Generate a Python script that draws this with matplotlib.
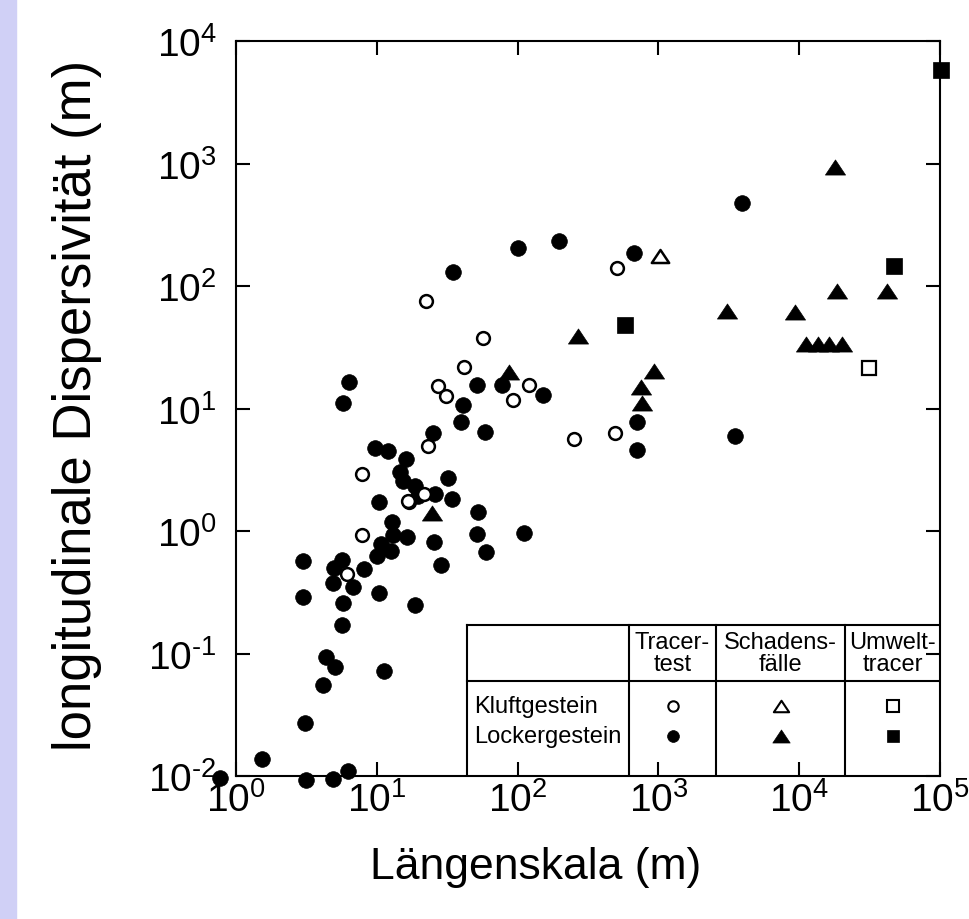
import matplotlib
matplotlib.use("Agg")
import matplotlib.pyplot as plt
from matplotlib.patches import Rectangle
from matplotlib.lines import Line2D
from matplotlib.path import Path
from matplotlib.ticker import FixedFormatter

plt.rcParams['font.family'] = ['Liberation Sans', 'DejaVu Sans']
plt.rcParams['mathtext.fontset'] = 'custom'
plt.rcParams['mathtext.rm'] = 'Liberation Sans'
plt.rcParams['mathtext.it'] = 'Liberation Sans'
plt.rcParams['mathtext.bf'] = 'Liberation Sans:bold'
plt.rcParams['axes.unicode_minus'] = False

# ----- data -----
# Tracertest, Lockergestein (filled circles)
tracer_locker_x = [0.77, 1.54, 3.14, 4.91, 6.28, 3.09, 4.17, 4.36, 5.05, 11.3,
                   5.63, 3.01, 3.01, 4.99, 5.69, 4.91, 6.81, 5.73, 10.4, 18.8,
                   8.11, 9.98, 10.7, 12.6, 12.9, 13.1, 16.3, 25.6, 28.4, 10.3,
                   52, 51.2, 6.38, 5.78, 51.7, 77, 152, 41.1, 39.4, 58.6,
                   25.2, 9.7, 12.1, 16.1, 14.6, 15.4, 18.7, 19.7, 25.9, 32.2,
                   34, 111, 59.7, 101, 34.6, 198, 3900, 674, 701, 701, 3500]
tracer_locker_y = [0.0096, 0.0138, 0.0092, 0.0095, 0.011, 0.027, 0.055, 0.093, 0.077, 0.072,
                   0.17, 0.57, 0.29, 0.50, 0.58, 0.38, 0.35, 0.26, 0.31, 0.25,
                   0.49, 0.63, 0.78, 0.69, 1.18, 0.93, 0.90, 0.82, 0.53, 1.71,
                   1.42, 0.95, 16.6, 11.2, 15.6, 15.6, 13, 10.7, 7.8, 6.4,
                   6.27, 4.76, 4.53, 3.87, 3.05, 2.57, 2.34, 1.94, 2.02, 2.71,
                   1.82, 0.965, 0.68, 204, 129, 232, 473, 186, 7.7, 4.58, 6.0]

# Tracertest, Kluftgestein (open circles)
tracer_kluft_x = [6.11, 7.85, 16.9, 27.1, 31, 120, 93, 22.9, 16.7, 21.6,
                  7.8, 22.4, 56.5, 41.6, 511, 252, 492]
tracer_kluft_y = [0.446, 0.927, 1.73, 15.3, 12.6, 15.6, 11.7, 4.9, 1.77, 2.0,
                  2.92, 75, 37.7, 21.7, 140, 5.63, 6.3]

# Schadensfaelle (triangles)
schaden_kluft_x = [1026]
schaden_kluft_y = [177]
schaden_locker_x = [24.8, 86.9, 270, 3050, 935, 752, 760, 18000,
                    11200, 13500, 16400, 20000, 18500, 41800, 9330]
schaden_locker_y = [1.40, 20, 38.8, 62, 20.4, 15.1, 11.2, 931,
                    33.7, 33.7, 33.7, 33.7, 90.6, 90.6, 61]

# Umwelttracer (squares)
umwelt_kluft_x = [31500]
umwelt_kluft_y = [21.3]
umwelt_locker_x = [579, 47100, 102000]
umwelt_locker_y = [48, 145, 5830]

x_exponents = [0, 1, 2, 3, 4, 5]
y_exponents = [-2, -1, 0, 1, 2, 3, 4]

col_labels = ["Tracer-\ntest", "Schadens-\nfälle", "Umwelt-\ntracer"]
row_labels = ["Kluftgestein", "Lockergestein"]


def pow_label(e):
    # plain hyphen for the minus, like the original
    s = str(e).replace('-', r'\text{-}')
    return r'$\mathdefault{10^{' + s + '}}$'


# slightly flat triangle, closed so the open one gets all three edges
tri = Path([(0, 0.75), (-1, -0.75), (1, -0.75), (0, 0.75)], closed=True)

fig = plt.figure(figsize=(9.69, 9.2), dpi=100)
fig.patches.append(Rectangle((0, 0), 16 / 969, 1, transform=fig.transFigure,
                             color='#d0d0f6', zorder=0))
ax = fig.add_axes([0.2436, 0.1554, 0.7265, 0.7989])

ax.plot(tracer_locker_x, tracer_locker_y, 'o', ms=11.3, mfc='black', mec='black',
        mew=0.5, ls='none', clip_on=False, zorder=3)
ax.plot(tracer_kluft_x, tracer_kluft_y, 'o', ms=9.2, mfc='white', mec='black',
        mew=1.8, ls='none', clip_on=False, zorder=4)
ax.plot(schaden_locker_x, schaden_locker_y, marker=tri, ms=14.5, mfc='black', mec='black',
        mew=0.5, ls='none', clip_on=False, zorder=3)
ax.plot(schaden_kluft_x, schaden_kluft_y, marker=tri, ms=12.5, mfc='white', mec='black',
        mew=1.8, ls='none', clip_on=False, zorder=4)
ax.plot(umwelt_locker_x, umwelt_locker_y, 's', ms=11, mfc='black', mec='black',
        mew=0.5, ls='none', clip_on=False, zorder=3)
ax.plot(umwelt_kluft_x, umwelt_kluft_y, 's', ms=9.5, mfc='white', mec='black',
        mew=1.6, ls='none', clip_on=False, zorder=4)

ax.set_xscale('log')
ax.set_yscale('log')
ax.set_xlim(1, 1e5)
ax.set_ylim(1e-2, 1e4)
ax.set_xticks([10.0 ** e for e in x_exponents])
ax.set_yticks([10.0 ** e for e in y_exponents])
ax.xaxis.set_major_formatter(FixedFormatter([pow_label(e) for e in x_exponents]))
ax.yaxis.set_major_formatter(FixedFormatter([pow_label(e) for e in y_exponents]))
ax.minorticks_off()
ax.tick_params(which='major', direction='in', length=10, width=1.5,
               top=True, right=True, labelsize=28)
ax.tick_params(axis='x', pad=4)
ax.tick_params(axis='y', pad=14)
for s in ax.spines.values():
    s.set_linewidth(1.5)
# the right-hand tick at 10^-1 is hidden behind the table in the original
for t in ax.yaxis.get_major_ticks():
    if abs(t.get_loc() - 0.1) < 1e-9:
        t.tick2line.set_visible(False)

ax.set_xlabel("Längenskala (m)", fontsize=32)
ax.xaxis.set_label_coords(0.425, -0.095)
ax.set_ylabel("longitudinale Dispersivität (m)", fontsize=38)
ax.yaxis.set_label_coords(-0.19, 0.505)

# ----- legend table -----
x0, x1, x2, x3, x4 = 0.328, 0.558, 0.682, 0.865, 1.0
yt, yh = 0.2054, 0.1293
ax.add_patch(Rectangle((x0, 0), x4 - x0, yt, transform=ax.transAxes,
                       facecolor='white', edgecolor='none', zorder=5))
lw = 1.5
ax.add_line(Line2D([x0, x4], [yt, yt], transform=ax.transAxes, color='black', lw=lw, zorder=6))
ax.add_line(Line2D([x0, x4], [yh, yh], transform=ax.transAxes, color='black', lw=lw, zorder=6))
for xv in [x0, x1, x2, x3]:
    ax.add_line(Line2D([xv, xv], [0, yt], transform=ax.transAxes, color='black', lw=lw, zorder=6))

centers = [(x1 + x2) / 2, (x2 + x3) / 2, (x3 + x4) / 2]
for cx, lab in zip(centers, col_labels):
    ax.text(cx, (yt + yh) / 2, lab, transform=ax.transAxes, ha='center', va='center',
            fontsize=17, linespacing=0.95, zorder=7)
row_y = [0.0952, 0.0544]
for ry, lab in zip(row_y, row_labels):
    ax.text(x0 + 0.01, ry, lab, transform=ax.transAxes, ha='left', va='center',
            fontsize=17, zorder=7)

leg_style = [
    ('o', 7.5, 'o', 8.5),
    (tri, 11, tri, 12.5),
    ('s', 8, 's', 8.5),
]
for cx, (m1, s1, m2, s2) in zip(centers, leg_style):
    ax.plot([cx], [row_y[0]], marker=m1, ms=s1, mfc='white', mec='black', mew=1.5,
            transform=ax.transAxes, zorder=7, clip_on=False)
    ax.plot([cx], [row_y[1]], marker=m2, ms=s2, mfc='black', mec='black', mew=0.5,
            transform=ax.transAxes, zorder=7, clip_on=False)

# ticks/spines above the table box
for s in ax.spines.values():
    s.set_zorder(8)
ax.xaxis.set_zorder(8)
ax.yaxis.set_zorder(8)

fig.savefig("out.png", dpi=100)
